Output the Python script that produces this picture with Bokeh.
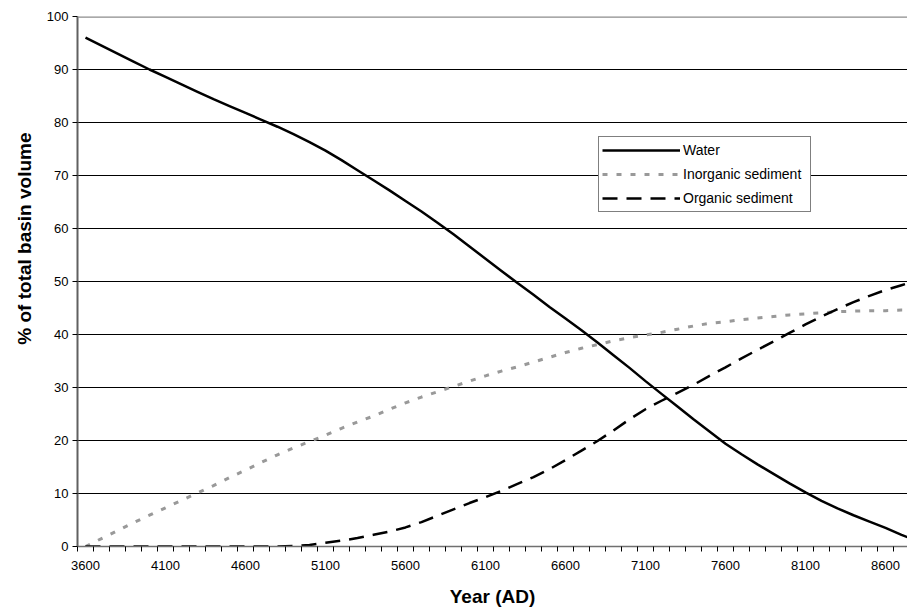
import math
from bokeh.plotting import figure
from bokeh.models import Range1d, FixedTicker, Span, Legend, LegendItem, Title
from bokeh.embed import file_html
from bokeh.resources import INLINE

years = [3600, 3700, 3800, 3900, 4000, 4100, 4200, 4300, 4400, 4500,
         4600, 4700, 4800, 4900, 5000, 5100, 5200, 5300, 5400, 5500,
         5600, 5700, 5800, 5900, 6000, 6100, 6200, 6300, 6400, 6500,
         6600, 6700, 6800, 6900, 7000, 7100, 7200, 7300, 7400, 7500,
         7600, 7700, 7800, 7900, 8000, 8100, 8200, 8300, 8400, 8500,
         8600, 8700, 8800]

water = [96.0, 94.5, 93.0, 91.5, 90.0, 88.6, 87.2, 85.8, 84.4, 83.1,
         81.8, 80.5, 79.2, 77.8, 76.3, 74.7, 72.9, 71.0, 69.1, 67.2,
         65.2, 63.2, 61.1, 58.9, 56.6, 54.3, 52.0, 49.7, 47.5, 45.2,
         43.0, 40.8, 38.5, 36.1, 33.7, 31.2, 28.8, 26.4, 24.0, 21.7,
         19.4, 17.4, 15.5, 13.7, 11.9, 10.2, 8.6, 7.2, 5.9, 4.7,
         3.5, 2.2, 1.0]

inorganic = [0.0, 1.5, 3.0, 4.5, 5.9, 7.3, 8.7, 10.1, 11.5, 13.0,
             14.4, 15.9, 17.3, 18.6, 19.8, 21.0, 22.3, 23.5, 24.6, 25.9,
             27.1, 28.2, 29.2, 30.2, 31.2, 32.2, 33.1, 33.9, 34.8, 35.7,
             36.6, 37.4, 38.1, 38.8, 39.4, 39.9, 40.4, 41.0, 41.6, 42.1,
             42.4, 42.8, 43.1, 43.4, 43.7, 43.9, 44.1, 44.3, 44.4, 44.5,
             44.5, 44.6, 44.6]

organic = [0.0, 0.0, 0.0, 0.0, 0.0, 0.0, 0.0, 0.0, 0.0, 0.0,
           0.0, 0.0, 0.0, 0.1, 0.3, 0.7, 1.1, 1.6, 2.2, 2.8,
           3.6, 4.6, 5.8, 7.0, 8.2, 9.3, 10.5, 11.8, 13.1, 14.6,
           16.3, 18.1, 19.9, 21.9, 24.0, 25.9, 27.5, 29.0, 30.5, 32.2,
           33.8, 35.5, 37.1, 38.7, 40.3, 41.9, 43.4, 44.8, 46.1, 47.3,
           48.4, 49.3, 50.2]

x_labels = [3600, 4100, 4600, 5100, 5600, 6100, 6600, 7100, 7600, 8100, 8600]
x_bounds = [3550, 3650, 3750, 3850, 3950, 4050, 4150, 4250, 4350, 4450,
            4550, 4650, 4750, 4850, 4950, 5050, 5150, 5250, 5350, 5450,
            5550, 5650, 5750, 5850, 5950, 6050, 6150, 6250, 6350, 6450,
            6550, 6650, 6750, 6850, 6950, 7050, 7150, 7250, 7350, 7450,
            7550, 7650, 7750, 7850, 7950, 8050, 8150, 8250, 8350, 8450,
            8550, 8650, 8750]
y_ticks = [0, 10, 20, 30, 40, 50, 60, 70, 80, 90, 100]
y_grid = [10, 20, 30, 40, 50, 60, 70, 80, 90]

FONT = "Liberation Sans"

p = figure(width=907, height=612, output_backend="svg", toolbar_location=None,
           x_range=Range1d(3550, 8737.5), y_range=Range1d(0, 100),
           min_border_left=77, min_border_right=0, min_border_top=16,
           min_border_bottom=66)
p.outline_line_color = None
p.background_fill_color = "white"
p.border_fill_color = "white"

# axes
p.xaxis.ticker = FixedTicker(ticks=x_labels, minor_ticks=x_bounds)
p.xaxis.major_tick_out = 0
p.xaxis.major_tick_in = 0
p.xaxis.minor_tick_out = 5
p.xaxis.minor_tick_in = 0
p.xaxis.minor_tick_line_color = "black"
p.xaxis.axis_line_color = "#707070"
p.xaxis.axis_line_width = 1.5
p.xaxis.major_label_standoff = 9
p.xaxis.major_label_text_font = FONT
p.xaxis.major_label_text_font_size = "13px"
p.xaxis.major_label_text_color = "black"
p.xaxis.axis_label = "Year (AD)"
p.xaxis.axis_label_text_font = FONT
p.xaxis.axis_label_text_font_style = "bold"
p.xaxis.axis_label_text_font_size = "19px"
p.xaxis.axis_label_standoff = 13
p.xaxis.axis_label_text_color = "black"

p.yaxis.ticker = FixedTicker(ticks=y_ticks, minor_ticks=[])
p.yaxis.major_tick_out = 5
p.yaxis.major_tick_in = 0
p.yaxis.major_tick_line_color = "black"
p.yaxis.axis_line_color = "#606060"
p.yaxis.axis_line_width = 2
p.yaxis.major_label_standoff = 4
p.yaxis.major_label_text_font = FONT
p.yaxis.major_label_text_font_size = "13px"
p.yaxis.major_label_text_color = "black"

p.xgrid.visible = False
p.ygrid.ticker = FixedTicker(ticks=y_grid)
p.ygrid.grid_line_color = "black"
p.ygrid.grid_line_width = 1

p.add_layout(Span(location=100, dimension="width", line_color="#8c8c8c", line_width=2.5))

ytitle = Title(text="% of total basin volume", align="right", offset=116,
               text_font=FONT, text_font_style="bold", text_font_size="19px",
               text_color="black", standoff=18)
p.add_layout(ytitle, "left")

r_w = p.line(years, water, line_color="black", line_width=2.5)
r_i = p.line(years, inorganic, line_color="#999999", line_width=3, line_dash="5 9")
r_o = p.line(years, organic, line_color="black", line_width=2.5, line_dash="15 9")

legend = Legend(items=[LegendItem(label="Water", renderers=[r_w]),
                       LegendItem(label="Inorganic sediment", renderers=[r_i]),
                       LegendItem(label="Organic sediment", renderers=[r_o])],
                location=(521, 334))
legend.glyph_width = 78
legend.glyph_height = 20
legend.label_height = 20
legend.label_width = 124
legend.label_standoff = 3
legend.spacing = 4
legend.padding = 3
legend.margin = 0
legend.border_line_color = "black"
legend.border_line_width = 1
legend.background_fill_color = "white"
legend.background_fill_alpha = 1
legend.label_text_font = FONT
legend.label_text_font_size = "14px"
legend.label_text_color = "black"
p.add_layout(legend)

open("out.html", "w").write(file_html(p, INLINE))
